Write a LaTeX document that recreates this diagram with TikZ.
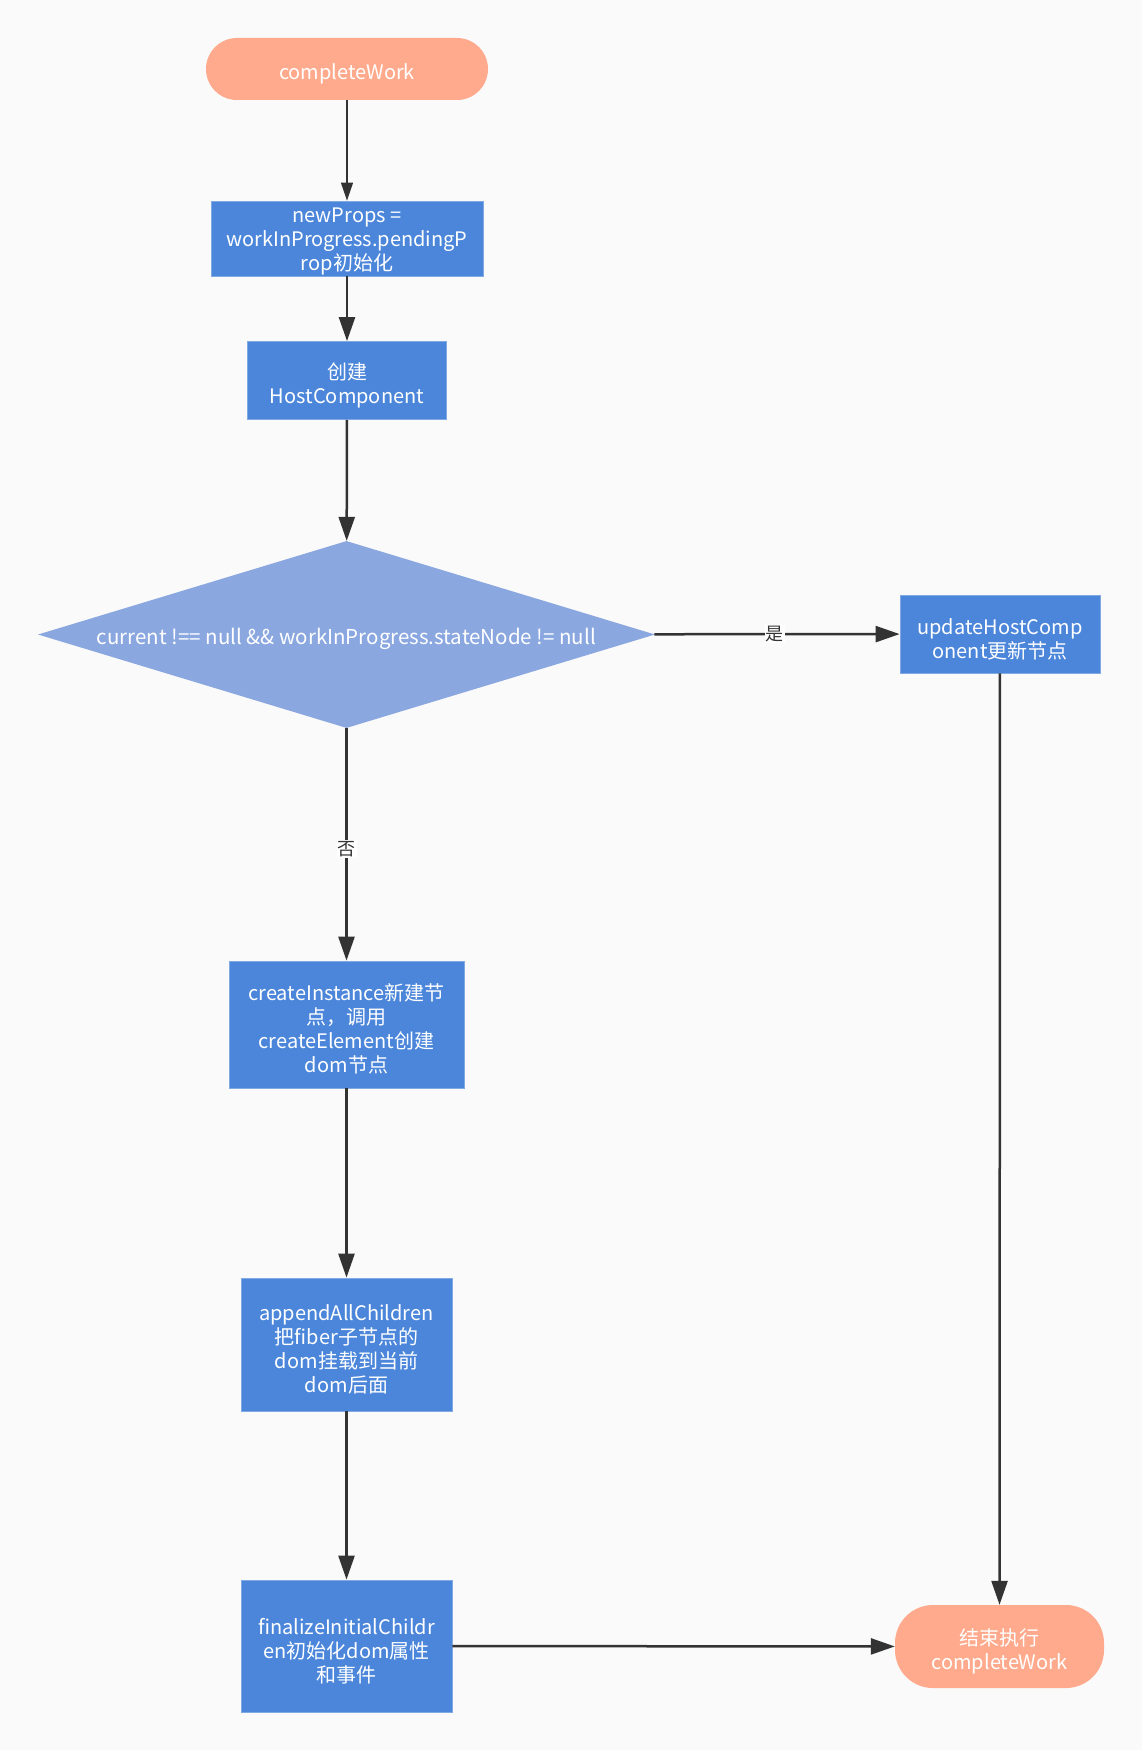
\documentclass[tikz,border=0pt]{standalone}
\usepackage{fontspec}
\setmainfont{Noto Sans CJK SC}
\usepackage{tikz}
\usetikzlibrary{positioning, calc}
\usetikzlibrary{shapes.geometric}
\usetikzlibrary{arrows.meta}

\definecolor{bgcol}{HTML}{FAFAFA}
\definecolor{termcol}{HTML}{FFAA8C}
\definecolor{boxcol}{HTML}{4B86DA}
\definecolor{condcol}{HTML}{8AA7E0}
\definecolor{linecol}{HTML}{333333}

\newcommand{\txtstrut}[1][26pt]{\rule{0pt}{#1}}

\tikzset{
  terminal/.style={rectangle, fill=termcol, text=white, inner sep=0pt, align=center,
    font=\fontsize{20}{24}\selectfont},
  process/.style={rectangle, fill=boxcol, draw=boxcol!70!white, line width=0.8pt, text=white,
    inner sep=0pt, align=center, font=\fontsize{20}{24}\selectfont},
  decision/.style={diamond, fill=condcol, text=white, inner sep=0pt, aspect=3.3,
    font=\fontsize{20.5}{24}\selectfont},
  flow/.style={draw=linecol, line width=2.5pt, -{Triangle[length=24pt,width=16pt]}},
  answer/.style={fill=white, text=linecol, inner sep=1pt, font=\fontsize{18}{20}\selectfont}
}

\begin{document}
\begin{tikzpicture}[x=1pt,y=-1pt]
  \fill[bgcol] (0,0) rectangle (1142,1750);
  \useasboundingbox (0,0) rectangle (1142,1750);

  % left column
  \node[terminal, minimum width=282pt, minimum height=62pt, rounded corners=31pt] (start) at (347,69) {\txtstrut completeWork};
  \node[process, minimum width=272pt, minimum height=75pt] (props) at (347,238.5) {\txtstrut[21pt]newProps =\\workInProgress.pendingP\\rop初始化};
  \node[process, minimum width=199pt, minimum height=78pt] (host) at (347,380.5) {\txtstrut 创建\\HostComponent};
  \node[decision, minimum width=617pt, minimum height=187pt] (cond) at (346.5,634.5) {\txtstrut current !== null \&\& workInProgress.stateNode != null};
  \node[process, minimum width=235pt, minimum height=127pt] (create) at (346.5,1024.5) {\txtstrut createInstance新建节\\点，调用\\createElement创建\\dom节点};
  \node[process, minimum width=211pt, minimum height=133pt] (append) at (346.5,1344.5) {\txtstrut appendAllChildren\\把fiber子节点的\\dom挂载到当前\\dom后面};
  \node[process, minimum width=211pt, minimum height=132pt] (final) at (346.5,1646) {\txtstrut finalizeInitialChildr\\en初始化dom属性\\和事件};

  % right column
  \node[process, minimum width=200pt, minimum height=78pt] (update) at (1000,634) {\txtstrut updateHostComp\\onent更新节点};
  \node[terminal, minimum width=209pt, minimum height=83pt, rounded corners=38pt] (finish) at (999.5,1646.5) {\txtstrut 结束执行\\completeWork};

  \draw[draw=linecol, line width=1.3pt, -{Triangle[length=18pt,width=12pt]}] (start) -- (props);
  \draw[flow] (props) -- (host);
  \draw[flow] (host) -- (cond);
  \draw[flow] (cond) -- node[answer, pos=0.49] {是} (update);
  \draw[flow] (cond) -- node[answer, pos=0.52] {否} (create);
  \draw[flow] (create) -- (append);
  \draw[flow] (append) -- (final);
  \draw[flow] (final) -- (finish);
  \draw[flow] (update) -- (finish);
\end{tikzpicture}
\end{document}
